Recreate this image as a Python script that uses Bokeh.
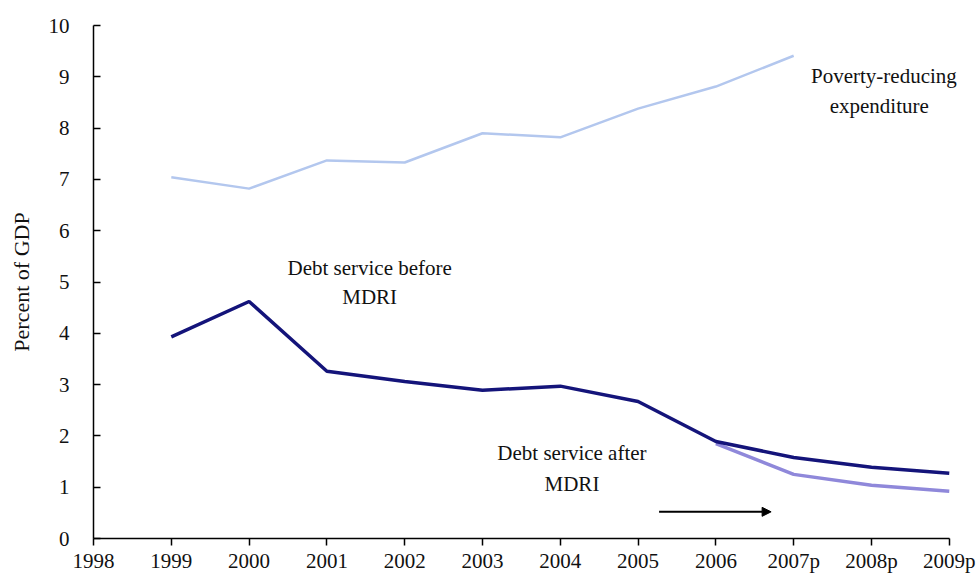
from bokeh.plotting import figure
from bokeh.models import Range1d, FixedTicker, Arrow, Label, NormalHead
from bokeh.embed import file_html
from bokeh.resources import INLINE

# ---- data ----
tick_years = [1998, 1999, 2000, 2001, 2002, 2003, 2004, 2005, 2006, 2007, 2008, 2009]
tick_labels = ["1998", "1999", "2000", "2001", "2002", "2003", "2004", "2005", "2006",
               "2007p", "2008p", "2009p"]

poverty_years = [1999, 2000, 2001, 2002, 2003, 2004, 2005, 2006, 2007]
poverty_values = [7.04, 6.82, 7.37, 7.33, 7.90, 7.82, 8.38, 8.81, 9.41]

before_years = [1999, 2000, 2001, 2002, 2003, 2004, 2005, 2006, 2007, 2008, 2009]
before_values = [3.93, 4.62, 3.26, 3.06, 2.89, 2.97, 2.67, 1.89, 1.58, 1.39, 1.27]

after_years = [2006, 2007, 2008, 2009]
after_values = [1.85, 1.25, 1.04, 0.92]

arrow_start = (2005.27, 0.52)
arrow_end = (2006.71, 0.52)

annotations = [
    (2008.16, 9.02, "Poverty-reducing"),
    (2008.10, 8.44, "expenditure"),
    (2001.55, 5.27, "Debt service before"),
    (2001.55, 4.70, "MDRI"),
    (2004.15, 1.66, "Debt service after"),
    (2004.15, 1.07, "MDRI"),
]

FONT = "Liberation Serif"
TXT = "#111111"

# frame extends a little past 2009p so the right-hand label is not clipped;
# the axis line itself is bounded to 1998-2009
p = figure(width=977, height=575, output_backend="svg", toolbar_location=None,
           x_range=Range1d(1998, 2009.35), y_range=Range1d(0, 10),
           min_border_left=93, min_border_right=1, min_border_top=25, min_border_bottom=37)
p.outline_line_color = None
p.background_fill_color = "white"
p.border_fill_color = "white"
p.xgrid.visible = False
p.ygrid.visible = False

p.line(poverty_years, poverty_values, line_color="#b3c7ee", line_width=2.5)
p.line(after_years, after_values, line_color="#8f88da", line_width=3.5)
p.line(before_years, before_values, line_color="#14147a", line_width=3.5)

p.add_layout(Arrow(end=NormalHead(size=9, fill_color="black", line_color="black"),
                   x_start=arrow_start[0], y_start=arrow_start[1],
                   x_end=arrow_end[0], y_end=arrow_end[1],
                   line_color="black", line_width=2))

for (x, y, txt) in annotations:
    p.add_layout(Label(x=x, y=y, text=txt,
                       text_font=FONT, text_font_size="21px", text_align="center",
                       text_baseline="middle", text_color=TXT))

xa = p.xaxis[0]
xa.ticker = FixedTicker(ticks=tick_years)
xa.bounds = (1998, 2009)
xa.major_label_overrides = {y: l for y, l in zip(tick_years, tick_labels)}
xa.minor_tick_line_color = None
xa.major_tick_in = 0
xa.major_tick_out = 7
xa.axis_line_color = "black"
xa.axis_line_width = 1.5
xa.major_tick_line_width = 1.5
xa.major_label_text_font = FONT
xa.major_label_text_font_size = "21px"
xa.major_label_text_color = TXT
xa.major_label_standoff = 3

ya = p.yaxis[0]
ya.ticker = FixedTicker(ticks=list(range(0, 11)))
ya.minor_tick_line_color = None
ya.major_tick_in = 7
ya.major_tick_out = 0
ya.axis_line_color = "black"
ya.axis_line_width = 1.5
ya.major_tick_line_width = 1.5
ya.major_label_text_font = FONT
ya.major_label_text_font_size = "21px"
ya.major_label_text_color = TXT
ya.major_label_standoff = 24
ya.axis_label = "Percent of GDP"
ya.axis_label_text_font = FONT
ya.axis_label_text_font_style = "normal"
ya.axis_label_text_font_size = "22px"
ya.axis_label_text_color = TXT
ya.axis_label_standoff = 12

open("out.html", "w").write(file_html(p, INLINE))
